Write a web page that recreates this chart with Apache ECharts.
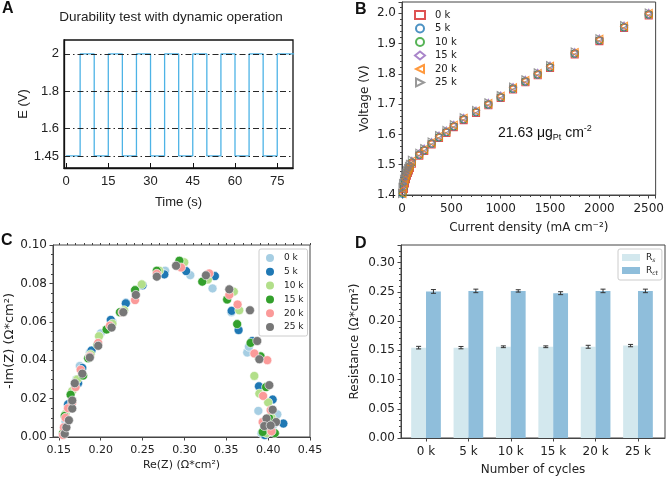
<html>
<head>
<meta charset="utf-8">
<script src="https://cdn.jsdelivr.net/npm/echarts@6/dist/echarts.min.js"></script>
<style>
  html, body { margin: 0; padding: 0; background: #fff; }
  #main { width: 667px; height: 477px; }
</style>
</head>
<body>
<div id="main"></div>
<script>
// ---- panel A: square wave (edge times and levels)
var aTimes = [0, 5, 10, 15, 20, 25, 30, 35, 40, 45, 50, 55, 60, 65, 70, 75, 81];
var aLevels = [1.45, 2, 1.45, 2, 1.45, 2, 1.45, 2, 1.45, 2, 1.45, 2, 1.45, 2, 1.45, 2, 2];
var aYTicks = [1.45, 1.6, 1.8, 2];
var aXTicks = [0, 15, 30, 45, 60, 75];

// ---- panel B: polarisation curves
var bCurrent = [0, 5, 10, 20, 30, 40, 50, 60, 70, 80, 100, 175, 225, 300, 375, 450, 525, 625, 750, 875, 1000, 1125, 1250, 1375, 1500, 1750, 2000, 2250, 2500];
var bV0 = [1.355, 1.382, 1.398, 1.420, 1.438, 1.452, 1.464, 1.473, 1.481, 1.489, 1.503, 1.530, 1.545, 1.567, 1.588, 1.605, 1.624, 1.647, 1.671, 1.696, 1.720, 1.748, 1.772, 1.795, 1.819, 1.864, 1.908, 1.951, 1.993];
var bV5 = [1.362, 1.388, 1.403, 1.425, 1.442, 1.456, 1.467, 1.476, 1.484, 1.492, 1.506, 1.532, 1.547, 1.569, 1.590, 1.607, 1.626, 1.649, 1.673, 1.698, 1.722, 1.750, 1.774, 1.797, 1.821, 1.866, 1.910, 1.953, 1.995];
var bV10 = [1.368, 1.393, 1.407, 1.428, 1.445, 1.458, 1.469, 1.478, 1.486, 1.494, 1.508, 1.533, 1.548, 1.570, 1.591, 1.608, 1.627, 1.650, 1.674, 1.699, 1.723, 1.751, 1.775, 1.798, 1.822, 1.867, 1.911, 1.954, 1.996];
var bV15 = [1.375, 1.398, 1.412, 1.432, 1.448, 1.461, 1.472, 1.481, 1.489, 1.497, 1.510, 1.535, 1.550, 1.572, 1.593, 1.610, 1.629, 1.652, 1.676, 1.701, 1.725, 1.753, 1.777, 1.800, 1.824, 1.869, 1.913, 1.956, 1.998];
var bV20 = [1.385, 1.405, 1.418, 1.437, 1.452, 1.465, 1.475, 1.484, 1.491, 1.499, 1.512, 1.536, 1.551, 1.573, 1.594, 1.611, 1.630, 1.653, 1.677, 1.702, 1.726, 1.754, 1.778, 1.801, 1.825, 1.870, 1.914, 1.957, 1.999];
var bV25 = [1.405, 1.425, 1.438, 1.452, 1.463, 1.472, 1.480, 1.487, 1.494, 1.501, 1.515, 1.538, 1.553, 1.575, 1.596, 1.613, 1.632, 1.655, 1.679, 1.704, 1.728, 1.756, 1.780, 1.803, 1.827, 1.872, 1.916, 1.959, 2.001];
var cycleNames = ['0 k', '5 k', '10 k', '15 k', '20 k', '25 k'];

// ---- panel C: Nyquist points [Re, -Im]
var c0 = [[0.156,0.002],[0.158,0.008],[0.161,0.016],[0.166,0.024],[0.171,0.030],[0.175,0.037],[0.187,0.044],[0.200,0.054],[0.214,0.060],[0.230,0.070],[0.249,0.079],[0.277,0.0866],[0.307,0.0843],[0.3336,0.0774],[0.356,0.065],[0.375,0.044],[0.377,0.047],[0.3883,0.0136],[0.411,0.0118],[0.392,0.002],[0.405,0.005]];
var c5 = [[0.157,0.004],[0.161,0.017],[0.173,0.028],[0.178,0.036],[0.189,0.045],[0.212,0.061],[0.230,0.0696],[0.250,0.079],[0.276,0.0847],[0.302,0.0864],[0.3364,0.0838],[0.3564,0.0657],[0.3647,0.0557],[0.381,0.050],[0.389,0.0264],[0.4054,0.0195],[0.4182,0.007],[0.396,0.001],[0.403,0.004]];
var c10 = [[0.156,0.003],[0.158,0.012],[0.166,0.024],[0.172,0.030],[0.188,0.043],[0.198,0.0525],[0.214,0.059],[0.228,0.066],[0.249,0.0795],[0.270,0.0866],[0.2998,0.091],[0.328,0.082],[0.359,0.0757],[0.3655,0.066],[0.388,0.042],[0.3835,0.0318],[0.3895,0.0226],[0.400,0.018],[0.404,0.010],[0.398,0.002]];
var c15 = [[0.155,0.002],[0.157,0.011],[0.164,0.022],[0.179,0.032],[0.185,0.041],[0.196,0.048],[0.207,0.056],[0.223,0.065],[0.241,0.0765],[0.267,0.0866],[0.294,0.0918],[0.3213,0.0809],[0.351,0.0716],[0.363,0.0588],[0.379,0.049],[0.391,0.042],[0.3975,0.026],[0.3934,0.0026],[0.408,0.002],[0.401,0.010]];
var c20 = [[0.155,0.001],[0.156,0.005],[0.158,0.010],[0.161,0.015],[0.166,0.018],[0.170,0.026],[0.176,0.035],[0.187,0.042],[0.197,0.049],[0.211,0.058],[0.226,0.065],[0.241,0.0713],[0.267,0.085],[0.296,0.0883],[0.3296,0.0852],[0.3536,0.074],[0.3635,0.069],[0.3835,0.0435],[0.399,0.040],[0.394,0.0214],[0.3934,0.0078],[0.404,0.003],[0.403,0.014]];
var c25 = [[0.157,0.0017],[0.159,0.005],[0.162,0.0087],[0.166,0.0148],[0.166,0.019],[0.169,0.028],[0.178,0.033],[0.187,0.0414],[0.197,0.0475],[0.213,0.057],[0.227,0.065],[0.242,0.074],[0.267,0.0835],[0.290,0.0892],[0.3257,0.0842],[0.3536,0.0769],[0.3783,0.066],[0.387,0.050],[0.3895,0.0405],[0.4014,0.027],[0.4054,0.0142],[0.398,0.0096],[0.4094,0.0078],[0.3954,0.0057],[0.403,0.006]];
var cXTicks = [0.15, 0.20, 0.25, 0.30, 0.35, 0.40, 0.45];

// ---- panel D: resistances
var dCats = ['0 k', '5 k', '10 k', '15 k', '20 k', '25 k'];
var dRs = [0.1545, 0.1545, 0.156, 0.156, 0.156, 0.158];
var dRsErr = [0.0022, 0.002, 0.0015, 0.0015, 0.0025, 0.002];
var dRct = [0.2506, 0.2515, 0.2515, 0.2476, 0.2515, 0.2515];
var dRctErr = [0.0032, 0.003, 0.002, 0.0025, 0.003, 0.003];

var chart = echarts.init(document.getElementById('main'), null, {renderer: 'canvas'});

var ARIAL = 'Liberation Sans';
var DJV = 'DejaVu Sans';
var spine = '#444';

// B series
var bColors = ['#d62728', '#1f77b4', '#2ca02c', '#9467bd', '#ff7f0e', '#7f7f7f'];
var bSymbols = ['rect', 'circle', 'circle', 'diamond',
  'path://M10,0 L0,5 L10,10 Z', 'path://M0,0 L10,5 L0,10 Z'];
var bSizes = [7, 7, 7, [6, 9], [7, 8], [7, 8]];
var bVs = [bV0, bV5, bV10, bV15, bV20, bV25];

// C series
var cColors = ['#a6cee3', '#1f78b4', '#b2df8a', '#33a02c', '#fb9a99', '#777777'];
var cSets = [c0, c5, c10, c15, c20, c25];

var series = [];

series.push({
  type: 'line', xAxisIndex: 0, yAxisIndex: 0, step: 'end', showSymbol: false,
  data: aTimes.map(function (t, i) { return [t, aLevels[i]]; }),
  lineStyle: {color: '#4db3e6', width: 1.3},
  markLine: {
    silent: true, symbol: ['none', 'none'], label: {show: false},
    lineStyle: {color: '#111', width: 0.9, type: [6, 3, 1.5, 3]},
    data: aYTicks.map(function (v) { return {yAxis: v}; })
  }
});

bVs.forEach(function (vs, k) {
  series.push({
    name: 'B' + cycleNames[k], type: 'scatter', xAxisIndex: 1, yAxisIndex: 1,
    symbol: bSymbols[k], symbolSize: bSizes[k],
    data: bCurrent.map(function (c, i) { return [c, vs[i]]; }),
    itemStyle: {color: 'rgba(255,255,255,0)', borderColor: bColors[k], borderWidth: 1.1}
  });
});

cSets.forEach(function (pts, k) {
  series.push({
    name: 'C' + cycleNames[k], type: 'scatter', xAxisIndex: 2, yAxisIndex: 2,
    symbol: 'circle', symbolSize: 9, data: pts,
    itemStyle: {color: cColors[k], borderColor: '#fff', borderWidth: 0.6, opacity: 1}
  });
});

function barSeries(name, vals, off, color) {
  return {
    name: name, type: 'custom', xAxisIndex: 4, yAxisIndex: 3,
    itemStyle: {color: color},
    data: vals.map(function (v, i) { return [i, v]; }),
    renderItem: function (params, api) {
      var x = api.value(0), y = api.value(1);
      var p0 = api.coord([x + off - 0.175, y]);
      var p1 = api.coord([x + off + 0.175, 0]);
      return {type: 'rect', shape: {x: p0[0], y: p0[1], width: p1[0] - p0[0], height: p1[1] - p0[1]},
              style: api.style()};
    }
  };
}
function errSeries(vals, errs, off) {
  return {
    type: 'custom', xAxisIndex: 4, yAxisIndex: 3, z: 5,
    data: vals.map(function (v, i) { return [i, v, errs[i]]; }),
    renderItem: function (params, api) {
      var x = api.value(0) + off, y = api.value(1), e = api.value(2);
      var top = api.coord([x, y + e]);
      var bot = api.coord([x, y - e]);
      var st = {stroke: '#333', lineWidth: 1};
      return {type: 'group', children: [
        {type: 'line', shape: {x1: top[0], y1: top[1], x2: bot[0], y2: bot[1]}, style: st},
        {type: 'line', shape: {x1: top[0] - 2.5, y1: top[1], x2: top[0] + 2.5, y2: top[1]}, style: st},
        {type: 'line', shape: {x1: bot[0] - 2.5, y1: bot[1], x2: bot[0] + 2.5, y2: bot[1]}, style: st}
      ]};
    }
  };
}
series.push(barSeries('Rs', dRs, -0.175, '#d3e8ee'));
series.push(barSeries('Rct', dRct, 0.175, '#8fbedb'));
series.push(errSeries(dRs, dRsErr, -0.175));
series.push(errSeries(dRct, dRctErr, 0.175));

var cMinor = [];
for (var m = 15; m <= 45; m++) cMinor.push(m / 100);

function lbl(font, size) {
  return {fontFamily: font, fontSize: size, color: '#222'};
}
function line(color, w) {
  return {onZero: false, lineStyle: {color: color, width: w || 1}};
}

chart.setOption({
  animation: false,
  grid: [
    {left: 64, top: 40, width: 229, height: 128, show: true, borderColor: '#111', borderWidth: 1.3},
    {left: 402, top: 2, width: 258, height: 193, show: true, borderColor: spine, borderWidth: 1},
    {left: 53, top: 245, width: 257, height: 192, show: true, borderColor: spine, borderWidth: 1},
    {left: 401, top: 245, width: 264, height: 194, show: true, borderColor: spine, borderWidth: 1}
  ],
  xAxis: [
    {gridIndex: 0, type: 'value', min: -0.73, max: 80.6,
     axisLine: line('#111', 1.3),
     axisTick: {inside: true, length: 5, customValues: aXTicks, lineStyle: {color: '#111'}},
     axisLabel: Object.assign(lbl(ARIAL, 13), {customValues: aXTicks, margin: 7}),
     splitLine: {show: false},
     name: 'Time (s)', nameLocation: 'middle', nameGap: 28, nameTextStyle: lbl(ARIAL, 13)},
    {gridIndex: 1, type: 'value', min: 0, max: 2570, interval: 500,
     axisLine: line(spine),
     axisTick: {length: 3.5, lineStyle: {color: spine}},
     minorTick: {show: true, splitNumber: 5, length: 2, lineStyle: {color: spine}},
     axisLabel: Object.assign(lbl(DJV, 12), {margin: 8, showMaxLabel: false,
       formatter: function (v) { return String(v); }}),
     splitLine: {show: false},
     name: 'Current density (mA cm\u207B\u00B2)', nameLocation: 'middle', nameGap: 27, nameTextStyle: lbl(DJV, 12)},
    {gridIndex: 2, type: 'value', min: 0.143, max: 0.45,
     axisLine: line(spine),
     axisTick: {length: 3.5, customValues: cXTicks, lineStyle: {color: spine}},
     axisLabel: Object.assign(lbl(DJV, 11), {customValues: cXTicks, margin: 8,
       formatter: function (v) { return v.toFixed(2); }}),
     splitLine: {show: false},
     name: 'Re(Z) (\u03A9*cm\u00B2)', nameLocation: 'middle', nameGap: 23, nameTextStyle: lbl(DJV, 11)},
    {gridIndex: 2, type: 'value', min: 0.143, max: 0.45, show: true,
     axisLine: {show: false, onZero: false}, axisLabel: {show: false}, splitLine: {show: false},
     axisTick: {length: 2, customValues: cMinor, lineStyle: {color: spine}}},
    {gridIndex: 3, type: 'value', min: -0.59, max: 5.637,
     axisLine: line(spine),
     axisTick: {length: 3.5, customValues: [0, 1, 2, 3, 4, 5], lineStyle: {color: spine}},
     axisLabel: Object.assign(lbl(DJV, 12), {customValues: [0, 1, 2, 3, 4, 5], margin: 8,
       formatter: function (v) { return dCats[Math.round(v)]; }}),
     splitLine: {show: false},
     name: 'Number of cycles', nameLocation: 'middle', nameGap: 26, nameTextStyle: lbl(DJV, 12)}
  ],
  yAxis: [
    {gridIndex: 0, type: 'value', min: 1.385, max: 2.075,
     axisLine: line('#111', 1.3),
     axisTick: {show: false},
     axisLabel: Object.assign(lbl(ARIAL, 13), {customValues: aYTicks, margin: 5}),
     splitLine: {show: false},
     name: 'E (V)', nameLocation: 'middle', nameGap: 33, nameTextStyle: lbl(ARIAL, 13)},
    {gridIndex: 1, type: 'value', min: 1.4, max: 2.037, interval: 0.1,
     axisLine: line(spine),
     axisTick: {length: 3.5, lineStyle: {color: spine}},
     minorTick: {show: true, splitNumber: 5, length: 2, lineStyle: {color: spine}},
     axisLabel: Object.assign(lbl(DJV, 12), {margin: 6, showMaxLabel: false,
       formatter: function (v) { return v.toFixed(1); }}),
     splitLine: {show: false},
     name: 'Voltage (V)', nameLocation: 'middle', nameGap: 31, nameTextStyle: lbl(DJV, 12)},
    {gridIndex: 2, type: 'value', min: 0, max: 0.1, interval: 0.02,
     axisLine: line(spine),
     axisTick: {length: 3.5, lineStyle: {color: spine}},
     minorTick: {show: true, splitNumber: 4, length: 2, lineStyle: {color: spine}},
     axisLabel: Object.assign(lbl(DJV, 12), {margin: 6, formatter: function (v) { return v.toFixed(2); }}),
     splitLine: {show: false},
     name: '-Im(Z) (\u03A9*cm\u00B2)', nameLocation: 'middle', nameGap: 33, nameTextStyle: lbl(DJV, 13)},
    {gridIndex: 3, type: 'value', min: 0, max: 0.33, interval: 0.05,
     axisLine: line(spine),
     axisTick: {length: 3.5, lineStyle: {color: spine}},
     minorTick: {show: true, splitNumber: 5, length: 2, lineStyle: {color: spine}},
     axisLabel: Object.assign(lbl(DJV, 12), {margin: 6, showMaxLabel: false,
       formatter: function (v) { return v.toFixed(2); }}),
     splitLine: {show: false},
     name: 'Resistance (\u03A9*cm\u00B2)', nameLocation: 'middle', nameGap: 40, nameTextStyle: lbl(DJV, 12)}
  ],
  legend: [
    {data: cycleNames.map(function (n) { return 'B' + n; }), orient: 'vertical', left: 414, top: 10,
     padding: 0, itemWidth: 10, itemHeight: 8, itemGap: 3.5,
     formatter: function (n) { return n.slice(1); },
     textStyle: {fontFamily: DJV, fontSize: 10, color: '#222', padding: [0, 0, 0, 5]}},
    {data: cycleNames.map(function (n) { return 'C' + n; }), orient: 'vertical', left: 259, top: 249,
     padding: [3, 4, 3, 5], itemWidth: 10, itemHeight: 10, itemGap: 1.8,
     borderColor: '#ccc', borderWidth: 1, borderRadius: 2, backgroundColor: 'rgba(255,255,255,0.8)',
     formatter: function (n) { return n.slice(1); },
     textStyle: {fontFamily: DJV, fontSize: 9, lineHeight: 10, color: '#222', padding: [0, 0, 0, 4]}},
    {data: ['Rs', 'Rct'], orient: 'vertical', left: 618, top: 249,
     padding: [4, 4, 4, 4], itemWidth: 18, itemHeight: 7, itemGap: 3, icon: 'rect',
     borderColor: '#ccc', borderWidth: 1, borderRadius: 2, backgroundColor: '#fff',
     formatter: function (n) { return '{r|R}{s|' + n.slice(1) + '}'; },
     textStyle: {fontFamily: DJV, color: '#222', padding: [0, 0, 0, 1],
       rich: {r: {fontFamily: DJV, fontSize: 9, lineHeight: 11},
              s: {fontFamily: DJV, fontSize: 6, fontStyle: 'italic', lineHeight: 7, verticalAlign: 'bottom'}}}}
  ],
  graphic: [
    {type: 'text', left: 2, top: 1, style: {text: 'A', font: 'bold 16px "Liberation Sans"', fill: '#111'}},
    {type: 'text', left: 355, top: 2, style: {text: 'B', font: 'bold 16px "Liberation Sans"', fill: '#111'}},
    {type: 'text', left: 1, top: 233, style: {text: 'C', font: 'bold 16px "Liberation Sans"', fill: '#111'}},
    {type: 'text', left: 355, top: 236, style: {text: 'D', font: 'bold 16px "Liberation Sans"', fill: '#111'}},
    {type: 'text', x: 171, y: 17, style: {text: 'Durability test with dynamic operation',
      font: '13.5px "Liberation Sans"', fill: '#222', align: 'center', verticalAlign: 'middle'}},
    {type: 'text', x: 498, y: 133, style: {
      text: '{a|21.63 \u03BCg}{s|Pt}{a| cm}{p|-2}', verticalAlign: 'middle',
      rich: {a: {fontFamily: ARIAL, fontSize: 14, lineHeight: 18, fill: '#111'},
             s: {fontFamily: ARIAL, fontSize: 9, lineHeight: 10, verticalAlign: 'bottom', fill: '#111'},
             p: {fontFamily: ARIAL, fontSize: 9, lineHeight: 10, verticalAlign: 'top', fill: '#111'}}}}
  ],
  series: series
});
</script>
</body>
</html>
